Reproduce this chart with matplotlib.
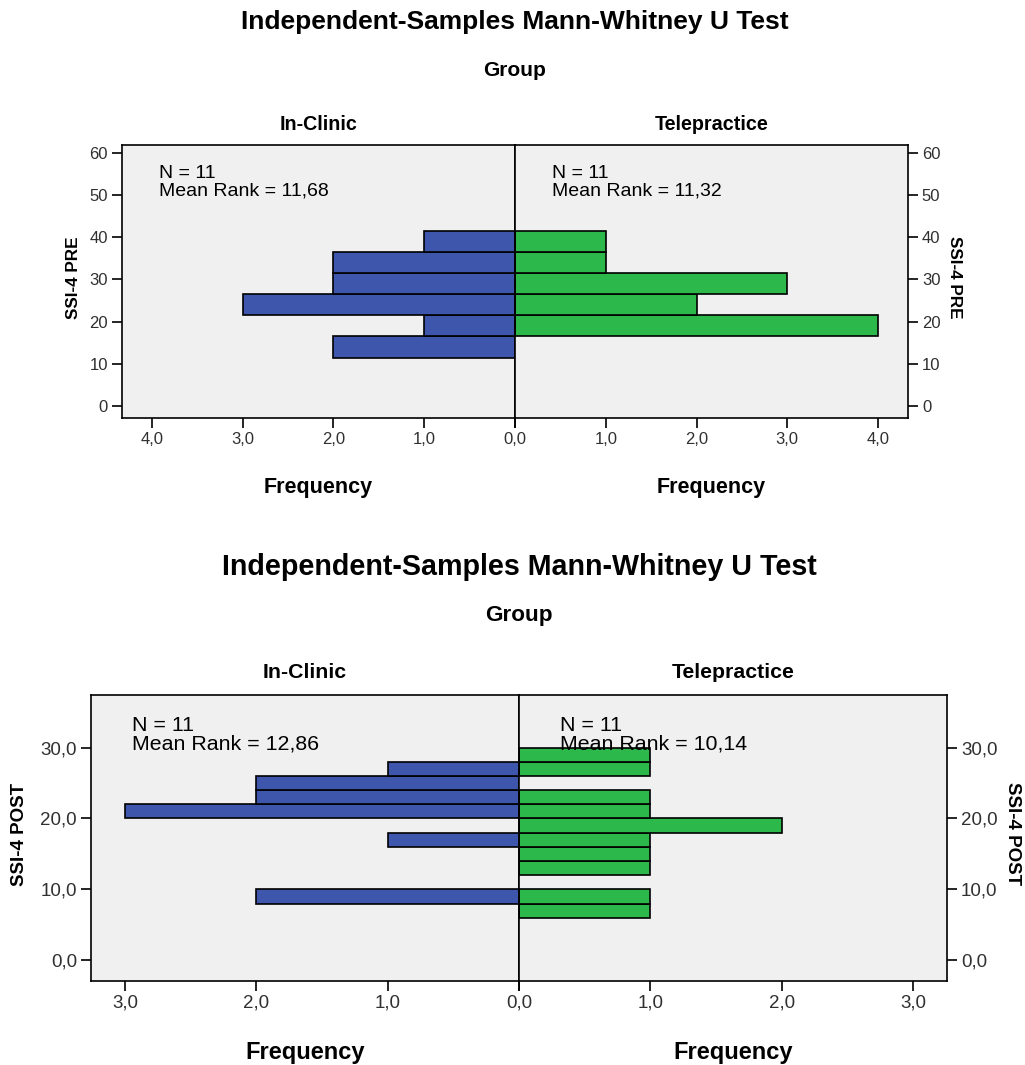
import numpy as np
import matplotlib
matplotlib.use("Agg")
import matplotlib.pyplot as plt

plt.rcParams['font.family'] = ['Liberation Sans', 'DejaVu Sans']

# --- data ---
groups = ["In-Clinic", "Telepractice"]

pre_edges = [11.5, 16.5, 21.5, 26.5, 31.5, 36.5, 41.5]
pre_clinic = [2, 1, 3, 2, 2, 1]
pre_tele = [0, 4, 2, 3, 1, 1]
pre_n = [11, 11]
pre_rank = ["11,68", "11,32"]

post_edges = [6, 8, 10, 12, 14, 16, 18, 20, 22, 24, 26, 28, 30]
post_clinic = [0, 2, 0, 0, 0, 1, 0, 3, 2, 2, 1, 0]
post_tele = [1, 1, 0, 1, 1, 1, 2, 1, 1, 0, 1, 1]
post_n = [11, 11]
post_rank = ["12,86", "10,14"]

W, H = 1025, 1065
BLUE = "#3e56ab"
GREEN = "#2db84b"
BG = "#f0f0f0"
TICKC = "#303030"

fig = plt.figure(figsize=(W / 100, H / 100), dpi=100)


def px_axes(x0, y0, x1, y1):
    return fig.add_axes([x0 / W, 1 - y1 / H, (x1 - x0) / W, (y1 - y0) / H])


def comma(v, dec):
    return f"{v:.{dec}f}".replace(".", ",")


def fy(y):
    return 1 - y / H


def draw_panel(top, box, edges, counts, ns, ranks, xmax, ylim, yticks, ydec, ylabel, fs, pos):
    x0, y0, xm, x1, y1 = box
    cx = (x0 + x1) / 2 / W
    fig.text(cx, fy(top + 22), "Independent-Samples Mann-Whitney U Test",
             ha="center", va="center", fontsize=fs["title"], fontweight="bold")
    fig.text(cx, fy(top + 71), "Group",
             ha="center", va="center", fontsize=fs["group"], fontweight="bold")
    axl = px_axes(x0, y0, xm, y1)
    axr = px_axes(xm, y0, x1, y1)
    colors = [BLUE, GREEN]
    edges = np.array(edges, dtype=float)
    for i, (ax, cnt) in enumerate(zip([axl, axr], counts)):
        ax.set_facecolor(BG)
        cnt = np.array(cnt)
        keep = cnt > 0
        ax.barh(edges[:-1][keep], cnt[keep], height=np.diff(edges)[keep], align="edge",
                color=colors[i], edgecolor="black", linewidth=1.2)
        ax.set_ylim(*ylim)
        ax.set_yticks(yticks)
        ax.set_yticklabels([comma(t, ydec) for t in yticks])
        xt = np.arange(0, int(xmax) + 1)
        ax.set_xticks(xt)
        labels = [comma(t, 1) for t in xt]
        if i == 0:
            ax.set_xlim(xmax, 0)
        else:
            labels[0] = ""
            ax.set_xlim(0, xmax)
            ax.yaxis.tick_right()
        ax.set_xticklabels(labels)
        ax.tick_params(direction="out", length=7, width=1.2, labelsize=fs["tick"],
                       color="black", labelcolor=TICKC, pad=3)
        for s in ax.spines.values():
            s.set_linewidth(1.2)
        xc = (x0 + xm) / 2 if i == 0 else (xm + x1) / 2
        fig.text(xc / W, fy(pos["freq"]), "Frequency", ha="center", va="center",
                 fontsize=fs["freq"], fontweight="bold")
        fig.text(xc / W, fy(pos["grp"]), groups[i], ha="center", va="center",
                 fontsize=fs["grp"], fontweight="bold")
        ax.text(0.095, pos["ntxt"], f"N = {ns[i]}\nMean Rank = {ranks[i]}", transform=ax.transAxes,
                ha="left", va="top", fontsize=fs["ntxt"], linespacing=1.02)
    ymid = fy((y0 + y1) / 2 - 4)
    fig.text(pos["yl"] / W, ymid, ylabel, ha="center", va="center", rotation=90,
             fontsize=fs["ylab"], fontweight="bold")
    fig.text(pos["yr"] / W, ymid, ylabel, ha="center", va="center", rotation=270,
             fontsize=fs["ylab"], fontweight="bold")
    return axl, axr


draw_panel(0, (122, 145, 515, 908, 418), pre_edges, [pre_clinic, pre_tele], pre_n, pre_rank,
           4.33, (-2.8, 61.8), [0, 10, 20, 30, 40, 50, 60], 0, "SSI-4 PRE",
           dict(title=19, group=15, grp=14.2, tick=12, freq=15.5, ntxt=14, ylab=12.3),
           dict(freq=487, grp=124, ntxt=0.925, yl=73, yr=955))
draw_panel(545, (91, 695, 519, 947, 981), post_edges, [post_clinic, post_tele], post_n, post_rank,
           3.26, (-2.9, 37.4), [0, 10, 20, 30], 1, "SSI-4 POST",
           dict(title=20.6, group=16.2, grp=15.3, tick=13.5, freq=17, ntxt=15.4, ylab=13.5),
           dict(freq=1053, grp=672, ntxt=0.928, yl=20, yr=1012))

fig.savefig("out.png", dpi=100, facecolor="white")
